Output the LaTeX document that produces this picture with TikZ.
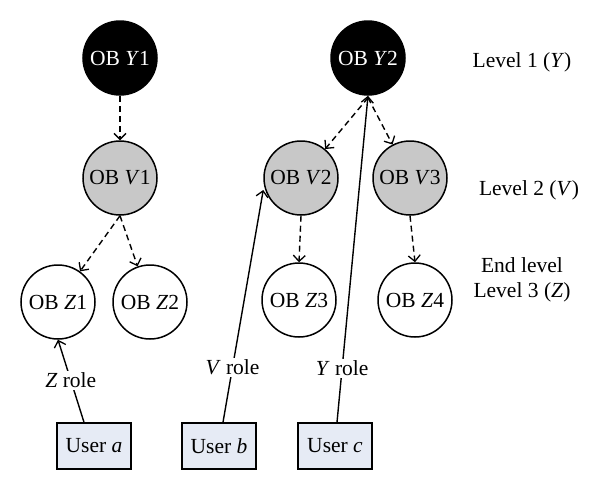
\documentclass[tikz,border=0pt]{standalone}
\usepackage{fontspec}
\setmainfont{Liberation Serif}
\usetikzlibrary{arrows.meta}
\definecolor{vgray}{RGB}{200,200,200}
\definecolor{userfill}{RGB}{230,235,245}
\begin{document}
\begin{tikzpicture}[x=1pt,y=-1pt,
  every node/.style={font=\fontsize{21.5}{25}\selectfont},
  obnode/.style={circle,draw=black,line width=1.5pt,minimum size=74pt,inner sep=0pt},
  ynode/.style={obnode,fill=black,text=white},
  vnode/.style={obnode,fill=vgray},
  znode/.style={obnode,fill=white},
  userbox/.style={draw=black,line width=1.5pt,fill=userfill,minimum width=74pt,minimum height=46pt,inner sep=0pt},
  dasharrow/.style={line width=1.4pt,dash pattern=on 6pt off 4pt,-{Straight Barb[length=6pt,width=12pt,line width=1.3pt]}},
  rolearrow/.style={line width=1.4pt,-{Straight Barb[length=6pt,width=12pt,line width=1.3pt]}},
  rolelabel/.style={fill=white,inner sep=2pt},
  levellabel/.style={align=center,inner sep=0pt}
]
\useasboundingbox (0,0) rectangle (600,490);
% level 1
\node[ynode] (y1) at (120,58) {OB \textit{Y}1};
\node[ynode] (y2) at (368,58) {OB \textit{Y}2};
% level 2
\node[vnode] (v1) at (120,178) {OB \textit{V}1};
\node[vnode] (v2) at (301,178) {OB \textit{V}2};
\node[vnode] (v3) at (410,178) {OB \textit{V}3};
% level 3
\node[znode] (z1) at (58,302) {OB \textit{Z}1};
\node[znode] (z2) at (150,302) {OB \textit{Z}2};
\node[znode] (z3) at (299,300) {OB \textit{Z}3};
\node[znode] (z4) at (415,300) {OB \textit{Z}4};
% users
\node[userbox] (ua) at (94,446) {User \textit{a}};
\node[userbox] (ub) at (219,446) {User \textit{b}};
\node[userbox] (uc) at (335,446) {User \textit{c}};
% level labels
\node[levellabel] (l1) at (522,62) {Level 1 (\textit{Y})};
\node[levellabel] (l2) at (529,190) {Level 2 (\textit{V})};
\node[levellabel] (l3) at (522,280) {End level\\Level 3 (\textit{Z})};
% dashed hierarchy arrows
\draw[dasharrow] (y1.south) -- (v1.north);
\coordinate (y2b) at ([yshift=-2pt]y2.south);
\draw[dasharrow] (y2b) -- (v2);
\draw[dasharrow] (y2b) -- (v3);
\draw[dasharrow] (v1.south) -- (z1);
\draw[dasharrow] (v1.south) -- (z2);
\draw[dasharrow] (v2.south) -- (z3.north);
\draw[dasharrow] (v3.south) -- (z4.north);
% role arrows
\draw[rolearrow] ([xshift=-10pt]ua.north) -- node[rolelabel,pos=0.51] (ra) {\textit{Z} role} (z1.south);
\draw[rolearrow] ([xshift=4pt]ub.north) -- node[rolelabel,pos=0.236] (rb) {\textit{V} role} (v2.west|-{(0,190)});
\draw[rolearrow] ([xshift=2pt]uc.north) -- node[rolelabel,pos=0.165] (rc) {\textit{Y} role} (y2.south);
\end{tikzpicture}
\end{document}
